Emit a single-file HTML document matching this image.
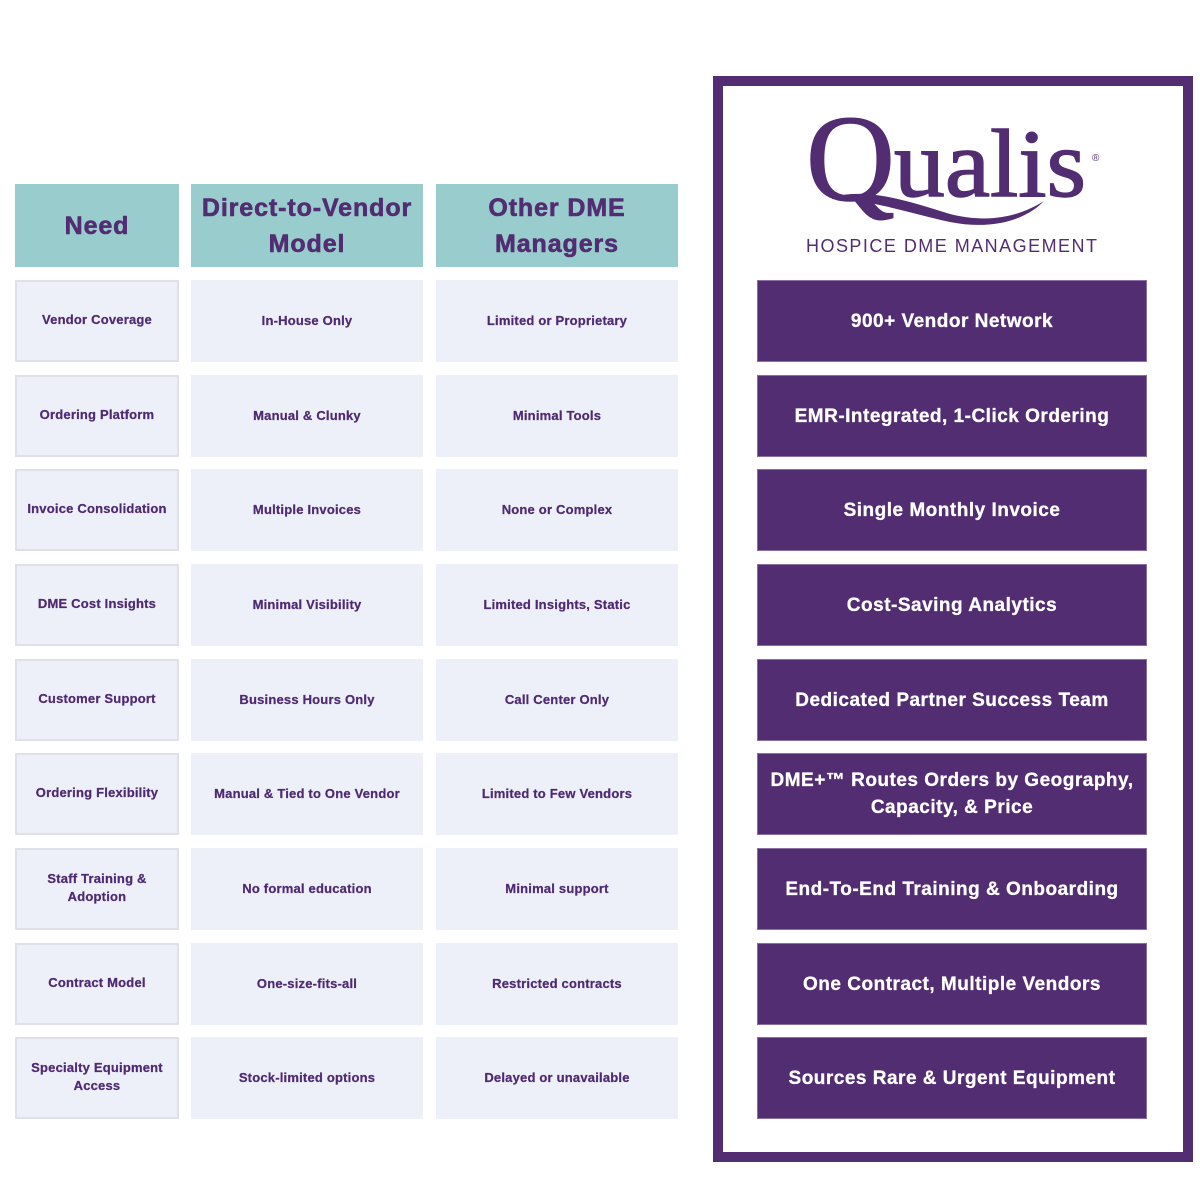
<!DOCTYPE html>
<html>
<head>
<meta charset="utf-8">
<style>
  html,body{margin:0;padding:0;background:#fff;}
  #root{position:relative;width:1200px;height:1200px;overflow:hidden;background:#fff;font-family:"Liberation Sans",Arial,sans-serif;}
  .c{position:absolute;display:flex;align-items:center;justify-content:center;text-align:center;box-sizing:border-box;font-weight:bold;}
  .h{background:#99cccc;color:#522d72;font-size:25px;line-height:36px;letter-spacing:0.9px;-webkit-text-stroke:0.6px #522d72;}
  .cell{background:#eef0f9;color:#4f2a73;font-size:13px;line-height:18px;letter-spacing:0.2px;height:82px;-webkit-text-stroke:0.25px #4f2a73;}
  .c1{left:15px;width:164px;border:2px solid #e0e1e8;padding-bottom:2px;}
  .c2{left:191px;width:232px;}
  .c3{left:436px;width:242px;}
  .p{background:#522d72;color:#fff;left:757px;width:390px;height:82px;font-size:19px;line-height:27px;letter-spacing:0.5px;border:1px solid #8a70a2;-webkit-text-stroke:0.3px #fff;}
  #frame{position:absolute;left:713px;top:76px;width:480px;height:1086px;box-sizing:border-box;border:10px solid #522d72;}
</style>
</head>
<body>
<div id="root">
  <div id="frame"></div>

  <svg style="position:absolute;left:0;top:0" width="1200" height="300" viewBox="0 0 1200 300">
    <text x="806" y="200" font-family="Liberation Serif, serif" font-size="123" fill="#522d72" stroke="#522d72" stroke-width="1.5">Q</text>
    <text x="894" y="196" font-family="Liberation Serif, serif" font-size="96" fill="#522d72" stroke="#522d72" stroke-width="1.5" textLength="192" lengthAdjust="spacingAndGlyphs">ualis</text>
    <path d="M 832,197 C 868,188 905,200 950,214 C 990,224 1020,216 1044,201 C 1025,221 990,230 950,222 C 905,212 868,199 832,199 Z" fill="#522d72"/>
    <text x="1092" y="161" font-family="Liberation Sans, sans-serif" font-size="10" fill="#522d72">®</text>
    <text x="806" y="252" font-family="Liberation Sans, sans-serif" font-size="18" fill="#522d72" textLength="291" lengthAdjust="spacing">HOSPICE DME MANAGEMENT</text>
  </svg>

  <!-- headers -->
  <div class="c h" style="left:15px;top:184px;width:164px;height:83px;">Need</div>
  <div class="c h" style="left:191px;top:184px;width:232px;height:83px;">Direct-to-Vendor<br>Model</div>
  <div class="c h" style="left:436px;top:184px;width:242px;height:83px;">Other DME<br>Managers</div>

  <!-- row 1 -->
  <div class="c cell c1" style="top:280px;">Vendor Coverage</div>
  <div class="c cell c2" style="top:280px;">In-House Only</div>
  <div class="c cell c3" style="top:280px;">Limited or Proprietary</div>
  <div class="c p" style="top:280px;">900+ Vendor Network</div>

  <!-- row 2 -->
  <div class="c cell c1" style="top:375px;">Ordering Platform</div>
  <div class="c cell c2" style="top:375px;">Manual &amp; Clunky</div>
  <div class="c cell c3" style="top:375px;">Minimal Tools</div>
  <div class="c p" style="top:375px;">EMR-Integrated, 1-Click Ordering</div>

  <!-- row 3 -->
  <div class="c cell c1" style="top:469px;">Invoice Consolidation</div>
  <div class="c cell c2" style="top:469px;">Multiple Invoices</div>
  <div class="c cell c3" style="top:469px;">None or Complex</div>
  <div class="c p" style="top:469px;">Single Monthly Invoice</div>

  <!-- row 4 -->
  <div class="c cell c1" style="top:564px;">DME Cost Insights</div>
  <div class="c cell c2" style="top:564px;">Minimal Visibility</div>
  <div class="c cell c3" style="top:564px;">Limited Insights, Static</div>
  <div class="c p" style="top:564px;">Cost-Saving Analytics</div>

  <!-- row 5 -->
  <div class="c cell c1" style="top:659px;">Customer Support</div>
  <div class="c cell c2" style="top:659px;">Business Hours Only</div>
  <div class="c cell c3" style="top:659px;">Call Center Only</div>
  <div class="c p" style="top:659px;">Dedicated Partner Success Team</div>

  <!-- row 6 -->
  <div class="c cell c1" style="top:753px;">Ordering Flexibility</div>
  <div class="c cell c2" style="top:753px;">Manual &amp; Tied to One Vendor</div>
  <div class="c cell c3" style="top:753px;">Limited to Few Vendors</div>
  <div class="c p" style="top:753px;">DME+™ Routes Orders by Geography,<br>Capacity, &amp; Price</div>

  <!-- row 7 -->
  <div class="c cell c1" style="top:848px;">Staff Training &amp;<br>Adoption</div>
  <div class="c cell c2" style="top:848px;">No formal education</div>
  <div class="c cell c3" style="top:848px;">Minimal support</div>
  <div class="c p" style="top:848px;">End-To-End Training &amp; Onboarding</div>

  <!-- row 8 -->
  <div class="c cell c1" style="top:943px;">Contract Model</div>
  <div class="c cell c2" style="top:943px;">One-size-fits-all</div>
  <div class="c cell c3" style="top:943px;">Restricted contracts</div>
  <div class="c p" style="top:943px;">One Contract, Multiple Vendors</div>

  <!-- row 9 -->
  <div class="c cell c1" style="top:1037px;">Specialty Equipment<br>Access</div>
  <div class="c cell c2" style="top:1037px;">Stock-limited options</div>
  <div class="c cell c3" style="top:1037px;">Delayed or unavailable</div>
  <div class="c p" style="top:1037px;">Sources Rare &amp; Urgent Equipment</div>
</div>
</body>
</html>
